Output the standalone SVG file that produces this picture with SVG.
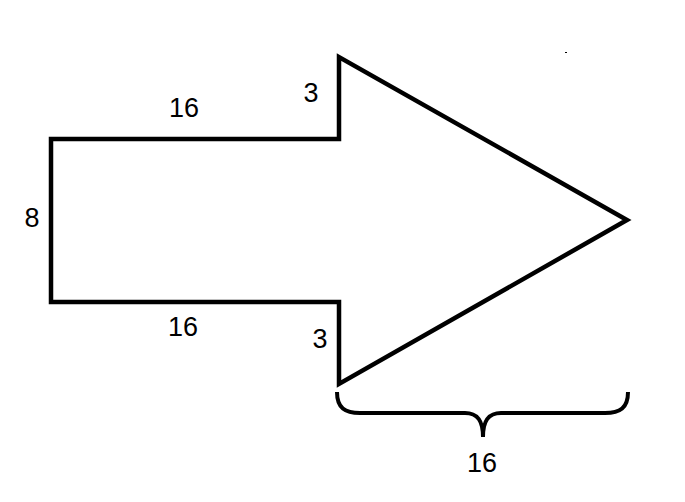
<svg xmlns="http://www.w3.org/2000/svg" width="685" height="502" viewBox="0 0 685 502">
<style>
.shape{fill:none;stroke:#000;stroke-width:4.5;stroke-linejoin:miter;stroke-linecap:square}
.brace{fill:none;stroke:#000;stroke-width:4;stroke-linecap:butt}
.lbl{font-family:"Liberation Sans",Arial,sans-serif;font-size:27px;fill:#000;text-anchor:middle}
</style>
<rect width="685" height="502" fill="#fff"/>
<g id="arrow">
<polygon class="shape" points="51,139 339,139 339,57 627,220 339,384 339,302 51,302"/>
</g>
<g id="connectors">
<path class="brace" d="M337,392 C337,408 345,413 360,413 L465,413 C478,413 483,421 483,437 C483,421 488,413 501,413 L605,413 C620,413 628,408 628,392"/>
</g>
<g id="labels">
<text class="lbl" x="184" y="117">16</text>
<text class="lbl" x="311" y="102">3</text>
<text class="lbl" x="32" y="227">8</text>
<text class="lbl" x="183" y="336">16</text>
<text class="lbl" x="320" y="348">3</text>
<text class="lbl" x="482" y="472">16</text>
</g>
<rect x="565" y="52" width="2" height="1" fill="#000"/>
</svg>
